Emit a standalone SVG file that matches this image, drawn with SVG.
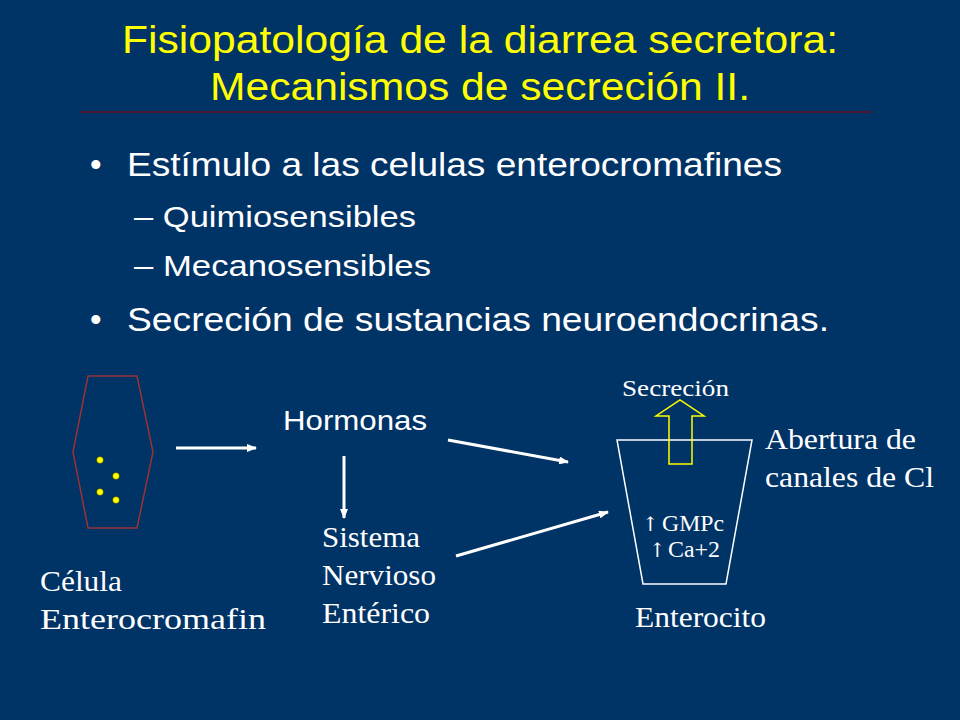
<svg xmlns="http://www.w3.org/2000/svg" width="960" height="720" viewBox="0 0 960 720">
<style>
.t{font-family:"Liberation Sans",Arial,sans-serif;fill:#fff}
.s{font-family:"Liberation Serif","Times New Roman",serif;fill:#fff}
.ar{font-family:"DejaVu Serif",serif;fill:#fff}
.c{stroke:#fff;stroke-width:3;fill:none}
</style>
<defs><marker id="a" markerWidth="10" markerHeight="8" refX="9" refY="4" orient="auto" markerUnits="userSpaceOnUse"><path d="M0,0L10,4L0,8z" fill="#fff"/></marker></defs>
<rect width="960" height="720" fill="#003366"/>
<g id="title" font-family="Liberation Sans,Arial,sans-serif" font-size="38" fill="#ffff00">
<text x="122" y="53" textLength="716" lengthAdjust="spacingAndGlyphs">Fisiopatología de la diarrea secretora:</text>
<text x="210" y="100" textLength="540" lengthAdjust="spacingAndGlyphs">Mecanismos de secreción II.</text>
</g>
<line x1="80" y1="112" x2="872" y2="112" stroke="#990000" stroke-width="1"/>
<g id="bullets" class="t">
<text x="90" y="176" font-size="33">•</text><text x="127" y="176" font-size="33" textLength="655" lengthAdjust="spacingAndGlyphs">Estímulo a las celulas enterocromafines</text>
<text x="134" y="227" font-size="29" textLength="282" lengthAdjust="spacingAndGlyphs">– Quimiosensibles</text>
<text x="134" y="276" font-size="29" textLength="297" lengthAdjust="spacingAndGlyphs">– Mecanosensibles</text>
<text x="90" y="331" font-size="33">•</text><text x="127" y="331" font-size="33" textLength="702" lengthAdjust="spacingAndGlyphs">Secreción de sustancias neuroendocrinas.</text>
</g>
<g id="celula">
<polygon points="88,376 137,376 153,452 137,528 88,528 73,452" fill="none" stroke="#993333" stroke-width="1.5"/>
<g fill="#ffff00" stroke="#000" stroke-width="0.5"><circle cx="100" cy="460" r="3.5"/><circle cx="116" cy="476" r="3.5"/><circle cx="100" cy="492" r="3.5"/><circle cx="116" cy="500" r="3.5"/></g>
<text class="s" x="40" y="591" font-size="30" textLength="82" lengthAdjust="spacingAndGlyphs">Célula</text>
<text class="s" x="40" y="629" font-size="30" textLength="226" lengthAdjust="spacingAndGlyphs">Enterocromafin</text>
</g>
<g id="hormonas"><text class="t" x="283" y="430" font-size="27" textLength="144" lengthAdjust="spacingAndGlyphs">Hormonas</text></g>
<g id="sne" class="s" font-size="30"><text x="322" y="547" textLength="98" lengthAdjust="spacingAndGlyphs">Sistema</text><text x="322" y="585" textLength="114" lengthAdjust="spacingAndGlyphs">Nervioso</text><text x="322" y="623" textLength="108" lengthAdjust="spacingAndGlyphs">Entérico</text></g>
<g id="enterocito">
<polygon points="617,440 752,440 726,584 643,584" fill="none" stroke="#fff" stroke-width="1.5"/>
<polygon points="669,464 669,416 656,416 680,400 704,416 692,416 692,464" fill="none" stroke="#ffff00" stroke-width="1.5"/>
<text class="s" x="622" y="396" font-size="23" textLength="107" lengthAdjust="spacingAndGlyphs">Secreción</text>
<text class="ar" x="642" y="531" font-size="20">↑</text><text class="s" x="662" y="531" font-size="23" textLength="62" lengthAdjust="spacingAndGlyphs">GMPc</text>
<text class="ar" x="649" y="557" font-size="20">↑</text><text class="s" x="668" y="557" font-size="23" textLength="52" lengthAdjust="spacingAndGlyphs">Ca+2</text>
<text class="s" x="635" y="627" font-size="30" textLength="131" lengthAdjust="spacingAndGlyphs">Enterocito</text>
<text class="s" x="765" y="449" font-size="30" textLength="151" lengthAdjust="spacingAndGlyphs">Abertura de</text>
<text class="s" x="765" y="487" font-size="30" textLength="169" lengthAdjust="spacingAndGlyphs">canales de Cl</text>
</g>
<g id="connectors" class="c">
<line x1="176" y1="448" x2="256" y2="448" marker-end="url(#a)"/>
<line x1="344" y1="456" x2="344" y2="518" marker-end="url(#a)"/>
<line x1="448" y1="440" x2="568" y2="462" marker-end="url(#a)"/>
<line x1="456" y1="556" x2="608" y2="512" marker-end="url(#a)"/>
</g>
</svg>
